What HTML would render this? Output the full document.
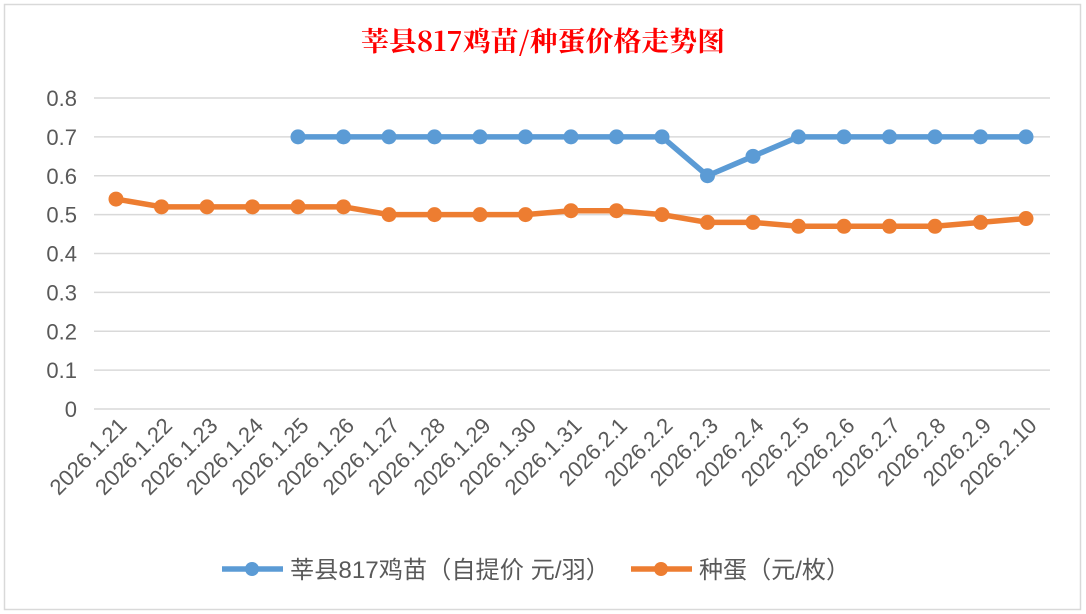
<!DOCTYPE html><html><head><meta charset="utf-8"><style>body{margin:0;background:#fff}svg{display:block}</style></head><body>
<svg width="1086" height="614" xmlns="http://www.w3.org/2000/svg" font-family="Liberation Sans, Noto Sans CJK SC, sans-serif">
<rect x="0" y="0" width="1086" height="614" fill="#fff"/>
<rect x="4.5" y="4.5" width="1076" height="605" fill="#fff" stroke="#d9d9d9" stroke-width="1.5"/>
<text x="543" y="51" text-anchor="middle" font-family="Noto Serif CJK SC, serif" font-weight="bold" font-size="27" fill="#ff0000" textLength="364" lengthAdjust="spacingAndGlyphs">莘县817鸡苗/种蛋价格走势图</text>
<g stroke="#d9d9d9" stroke-width="1.5" id="grid"></g>
<g font-size="22" fill="#595959" text-anchor="end" id="yl"></g>
<g font-size="22" fill="#595959" text-anchor="end" id="xl"></g>
<polyline id="b" fill="none" stroke="#5b9bd5" stroke-width="5.5" stroke-linejoin="round"/>
<polyline id="o" fill="none" stroke="#ed7d31" stroke-width="5.5" stroke-linejoin="round"/>
<g id="bm" fill="#5b9bd5"></g><g id="om" fill="#ed7d31"></g>
<line x1="222" y1="569" x2="283" y2="569" stroke="#5b9bd5" stroke-width="5.5"/><circle cx="252" cy="569" r="7" fill="#5b9bd5"/>
<text x="290" y="578" font-size="24" fill="#595959" textLength="320" lengthAdjust="spacingAndGlyphs">莘县817鸡苗（自提价 元/羽）</text>
<line x1="631" y1="569" x2="692" y2="569" stroke="#ed7d31" stroke-width="5.5"/><circle cx="661" cy="569" r="7" fill="#ed7d31"/>
<text x="699" y="578" font-size="24" fill="#595959" textLength="151" lengthAdjust="spacingAndGlyphs">种蛋（元/枚）</text>
</svg>
<script>
var ns="http://www.w3.org/2000/svg";function el(t,a,p,tx){var e=document.createElementNS(ns,t);for(var k in a)e.setAttribute(k,a[k]);if(tx!==undefined)e.textContent=tx;document.getElementById(p).appendChild(e);}
function Y(v){return 409-v*388.75}function X(i){return 116+i*45.5}
for(var i=0;i<=8;i++){var y=Y(i/10);el("line",{x1:94,x2:1050,y1:y,y2:y},"grid");el("text",{x:77,y:y+8},"yl",i==0?"0":(i/10).toFixed(1));}
var d=["1.21","1.22","1.23","1.24","1.25","1.26","1.27","1.28","1.29","1.30","1.31","2.1","2.2","2.3","2.4","2.5","2.6","2.7","2.8","2.9","2.10"];
d.forEach(function(s,i){var x=X(i)+12,y=427;el("text",{x:x,y:y,transform:"rotate(-45 "+x+" "+y+")"},"xl","2026."+s);});
var B=[null,null,null,null,.7,.7,.7,.7,.7,.7,.7,.7,.7,.6,.65,.7,.7,.7,.7,.7,.7];
var O=[.54,.52,.52,.52,.52,.52,.50,.50,.50,.50,.51,.51,.50,.48,.48,.47,.47,.47,.47,.48,.49];
var pb=[],po=[];B.forEach(function(v,i){if(v!=null){pb.push(X(i)+","+Y(v));el("circle",{cx:X(i),cy:Y(v),r:7.5},"bm");}});
O.forEach(function(v,i){po.push(X(i)+","+Y(v));el("circle",{cx:X(i),cy:Y(v),r:7.5},"om");});
document.getElementById("b").setAttribute("points",pb.join(" "));document.getElementById("o").setAttribute("points",po.join(" "));
</script></body></html>
